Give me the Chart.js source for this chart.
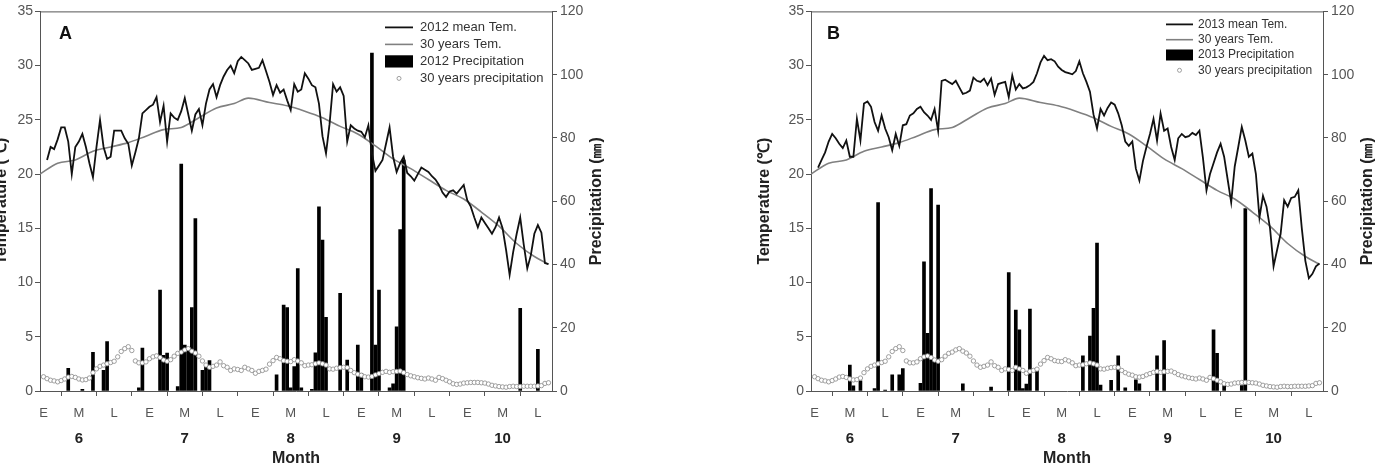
<!DOCTYPE html>
<html>
<head>
<meta charset="utf-8">
<script src="https://cdn.jsdelivr.net/npm/chart.js@4.4.1/dist/chart.umd.min.js"></script>
<style>
  html, body { margin: 0; padding: 0; background: #fff; width: 1377px; height: 463px; overflow: hidden; position: relative; }
  canvas { position: absolute; top: 0; }
  #chartA { left: -12px; }
  #chartB { left: 751px; }
</style>
</head>
<body>
<canvas id="chartA" width="624" height="475"></canvas>
<canvas id="chartB" width="626" height="475"></canvas>
<script>
// x axis: day index from 1 June (E/M/L = early, mid, late part of each month)
const periodTickDays = [1, 11, 21, 31, 41, 51, 61, 71, 81, 91, 101, 111, 121, 131, 141];
const periodLabels = ['E', 'M', 'L', 'E', 'M', 'L', 'E', 'M', 'L', 'E', 'M', 'L', 'E', 'M', 'L'];
const monthTickDays = [11, 41, 71, 101, 131];
const monthLabels = ['6', '7', '8', '9', '10'];

// 30 years mean temperature (smooth curve), read every few days
const normTempDays = [0, 5, 10, 15, 20, 25, 30, 35, 40, 45, 50, 55, 59, 65, 70,
                      75, 80, 85, 90, 95, 100, 105, 110, 115, 120, 125, 130, 135, 140, 144];
const normTemp = [20.0, 21.0, 21.3, 22.1, 22.5, 22.9, 23.5, 24.1, 24.3, 25.2, 26.1, 26.5, 27.0, 26.6, 26.3,
                  25.8, 25.2, 24.4, 23.7, 22.6, 21.4, 20.5, 19.5, 18.5, 17.7, 16.5, 15.2, 13.6, 12.4, 11.7];

// 30 years daily precipitation (mm), day 1 .. 144
const normPrecipFirstDay = 1;
const normPrecip = [
  4.5, 3.9, 3.4, 3.2, 2.9, 3.3, 3.8, 4.4, 4.6, 4.3,
  3.8, 3.5, 3.6, 4.1, 5.8, 7.0, 7.8, 8.2, 8.6, 9.0,
  9.4, 10.8, 12.5, 13.4, 14.0, 12.8, 9.5, 8.9, 8.9, 9.2,
  10.2, 10.8, 11.1, 10.6, 9.8, 9.4, 9.9, 11.0, 11.9, 12.3,
  13.0, 13.4, 12.6, 12.0, 11.0, 9.5, 8.2, 7.5, 7.8, 8.2,
  9.2, 8.0, 7.5, 6.5, 7.0, 6.8, 6.5, 7.5, 7.0, 6.5,
  5.6, 6.2, 6.5, 6.9, 8.5, 9.6, 10.6, 10.2, 9.6, 9.4,
  9.3, 9.9, 9.5, 8.9, 8.0, 8.2, 8.3, 8.6, 8.9, 8.6,
  8.2, 7.0, 6.9, 7.2, 7.4, 7.5, 7.4, 6.5, 5.8, 5.3,
  5.0, 4.5, 4.4, 4.6, 5.1, 5.5, 5.9, 6.2, 5.9, 6.1,
  6.2, 6.3, 5.8, 5.2, 4.8, 4.5, 4.2, 4.0, 3.8, 4.1,
  3.8, 3.4, 4.3, 3.9, 3.4, 2.9, 2.3, 2.1, 2.2, 2.5,
  2.6, 2.7, 2.7, 2.7, 2.6, 2.5, 2.2, 1.8, 1.6, 1.4,
  1.3, 1.2, 1.4, 1.5, 1.4, 1.4, 1.5, 1.5, 1.5, 1.5,
  1.6, 1.7, 2.4, 2.6
];

// daily mean temperature, day 2 .. 144
const tempFirstDay = 2;
const temp2012 = [
  21.3, 22.5, 22.3, 23.2, 24.3, 24.3, 23.0, 20.0, 22.5, 23.0,
  23.7, 22.5, 21.0, 19.7, 22.5, 25.0, 22.5, 21.4, 21.6, 24.0,
  24.0, 24.0, 23.3, 22.8, 20.8, 22.0, 23.3, 25.6, 25.9, 26.2,
  26.4, 27.1, 24.8, 26.3, 23.0, 25.6, 25.2, 25.0, 25.8, 27.0,
  25.5, 24.0, 25.5, 26.0, 24.5, 26.5, 27.8, 28.3, 27.1, 28.2,
  29.0, 29.6, 30.0, 29.3, 30.4, 30.8, 30.5, 30.2, 29.6, 29.7,
  29.8, 30.5, 29.5, 28.5, 27.3, 28.2, 27.5, 27.8, 26.8, 25.9,
  28.3, 27.6, 27.8, 29.3, 28.8, 28.2, 28.0, 26.5, 23.5, 21.9,
  24.6, 28.3, 27.6, 28.0, 27.2, 23.0, 24.5, 24.2, 24.0, 23.9,
  23.4, 24.5, 21.9, 20.3, 20.8, 21.3, 22.8, 24.3, 21.6, 20.2,
  21.0, 21.6, 20.1, 19.8, 19.4, 20.0, 20.6, 20.4, 20.2, 19.8,
  19.5, 19.0, 18.3, 17.9, 18.4, 18.5, 18.2, 18.6, 19.0, 17.6,
  17.0, 16.0, 15.1, 16.0, 15.5, 15.0, 14.5, 15.1, 16.0, 15.0,
  13.0, 10.7, 12.8, 14.5, 16.0, 13.5, 11.3, 12.5, 14.5, 15.3,
  14.6, 11.8, 11.7
];
const temp2013 = [
  20.6, 21.3, 22.0, 23.0, 23.7, 23.3, 22.8, 22.4, 23.1, 21.6,
  21.6, 25.1, 23.1, 26.5, 26.7, 26.2, 24.8, 24.0, 25.4, 24.2,
  23.4, 22.2, 23.7, 22.6, 24.5, 24.6, 25.4, 25.6, 26.0, 26.2,
  25.7, 25.4, 25.0, 26.0, 24.0, 28.6, 28.7, 28.5, 28.3, 28.6,
  28.0, 27.4, 27.5, 27.7, 28.9, 28.6, 28.5, 28.8, 28.2, 28.8,
  27.3, 28.3, 28.4, 28.5, 27.1, 29.1, 27.8, 28.3, 27.9, 28.0,
  28.2, 28.5, 29.3, 30.3, 30.9, 30.5, 30.6, 30.4, 29.9, 29.6,
  29.4, 29.3, 29.2, 29.5, 30.4, 29.3, 28.5, 27.6, 25.5, 24.2,
  26.0, 25.4, 26.1, 26.6, 26.4, 25.6, 24.5, 23.0, 22.6, 23.0,
  20.5, 19.4, 21.2, 22.5, 23.7, 25.1, 23.1, 25.6, 24.0, 24.2,
  22.5, 21.3, 23.3, 23.7, 23.4, 23.5, 23.8, 23.6, 24.0, 21.5,
  18.5, 20.0, 21.0, 22.0, 22.8, 21.6, 19.5, 17.4, 20.7, 22.5,
  24.35, 23.1, 21.6, 21.9, 20.0, 16.0, 18.0, 17.0, 15.0, 11.5,
  13.0, 14.5, 17.6, 17.0, 17.8, 17.9, 18.5, 15.0, 12.0, 10.4,
  10.8, 11.5, 11.75
];

// daily precipitation (mm), only the rainy days
const precipDays2012 = [8, 12, 15, 18, 19, 28, 29, 34, 35, 36, 39, 40, 41, 42, 43, 44, 46, 47, 48, 67,
                        69, 70, 71, 72, 73, 74, 77, 78, 79, 80, 81, 85, 87, 90, 91, 94, 95, 96, 99, 100,
                        101, 102, 103, 136, 141];
const precip2012 = [7.2, 0.5, 12.2, 6.5, 15.6, 1.0, 13.6, 31.9, 11.3, 12.0, 1.4, 71.7, 14.5, 13.5, 26.4, 54.5, 6.5, 8.4, 9.6, 5.1,
                    27.2, 26.4, 1.0, 7.7, 38.7, 1.0, 0.5, 12.1, 58.2, 47.7, 23.3, 30.9, 9.8, 14.5, 5.6, 106.8, 14.5, 31.9, 1.0, 2.3,
                    20.3, 51.0, 73.0, 26.1, 13.2];
const precipDays2013 = [11, 12, 14, 18, 19, 21, 23, 25, 26, 31, 32, 33, 34, 35, 36, 43, 51, 56, 58, 59,
                        60, 61, 62, 64, 77, 79, 80, 81, 82, 85, 87, 89, 92, 93, 98, 100, 114, 115, 117, 122,
                        123];
const precip2013 = [8.2, 1.6, 3.2, 0.8, 59.6, 0.3, 5.1, 5.1, 7.1, 2.4, 40.8, 18.2, 64.0, 9.5, 58.8, 2.3, 1.2, 37.4, 25.6, 19.3,
                    0.8, 2.2, 25.9, 6.6, 11.1, 17.4, 26.1, 46.8, 1.9, 3.4, 11.1, 1.0, 3.5, 2.3, 11.1, 15.9, 19.3, 11.9, 2.2, 1.7,
                    57.7];

Chart.defaults.font.family = '"Liberation Sans", Arial, sans-serif';
Chart.defaults.color = '#555';

const pairs = (days, vals) => days.map((d, i) => ({x: d, y: vals[i]}));
const daily = (first, vals) => vals.map((v, i) => ({x: first + i, y: v}));

// top border of the frame, legend box, panel letter, right axis title
const panelDecor = {
  id: 'panelDecor',
  afterDraw(chart, args, o) {
    const {ctx, chartArea: ca} = chart;
    ctx.save();
    ctx.strokeStyle = '#555';
    ctx.lineWidth = 1;
    ctx.beginPath();
    ctx.moveTo(ca.left, ca.top + 0.5);
    ctx.lineTo(ca.right, ca.top + 0.5);
    ctx.stroke();

    ctx.fillStyle = '#111';
    ctx.font = 'bold 18px "Liberation Sans", Arial, sans-serif';
    ctx.textBaseline = 'alphabetic';
    ctx.fillText(o.letter, ca.left + o.letterDx, ca.top + 28);

    // right axis title, reading bottom to top
    ctx.translate(ca.right + 45, (ca.top + ca.bottom) / 2);
    ctx.rotate(-Math.PI / 2);
    ctx.font = 'bold 16px "Liberation Sans", Arial, sans-serif';
    ctx.fillStyle = '#222';
    ctx.textAlign = 'center';
    ctx.textBaseline = 'middle';
    ctx.fillText('Precipitation (㎜)', 0, 0);
    ctx.restore();

    // legend
    ctx.save();
    ctx.font = o.legendFont + 'px "Liberation Sans", Arial, sans-serif';
    ctx.textBaseline = 'middle';
    const x0 = ca.right - o.legendDx;
    chart.data.datasets.forEach((ds, i) => {
      const y = ca.top + o.legendDy + i * o.rowH;
      if (ds.type === 'bar') {
        ctx.fillStyle = '#000';
        ctx.fillRect(x0, y - o.rowH * 0.36, o.sampleW, o.rowH * 0.72);
      } else if (ds.showLine === false) {
        ctx.beginPath();
        ctx.arc(x0 + o.sampleW / 2, y, 2, 0, Math.PI * 2);
        ctx.fillStyle = '#fff';
        ctx.fill();
        ctx.strokeStyle = '#888';
        ctx.lineWidth = 0.8;
        ctx.stroke();
      } else {
        ctx.strokeStyle = ds.borderColor;
        ctx.lineWidth = ds.borderWidth;
        ctx.beginPath();
        ctx.moveTo(x0, y);
        ctx.lineTo(x0 + o.sampleW, y);
        ctx.stroke();
      }
      ctx.fillStyle = '#333';
      ctx.fillText(ds.label, x0 + o.sampleW + o.textGap, y);
    });
    ctx.restore();
  }
};

function makeChart(id, year, temp, pDays, pVals, sizes) {
  return new Chart(document.getElementById(id), {
    type: 'line',
    data: {
      datasets: [{
        label: year + ' mean Tem.',
        data: daily(tempFirstDay, temp),
        borderColor: '#111',
        borderWidth: 1.8,
        pointRadius: 0,
        tension: 0,
        yAxisID: 'y',
        order: 0
      }, {
        label: '30 years Tem.',
        data: pairs(normTempDays, normTemp),
        borderColor: '#808080',
        borderWidth: 1.6,
        pointRadius: 0,
        cubicInterpolationMode: 'monotone',
        yAxisID: 'y',
        order: 1
      }, {
        type: 'bar',
        label: year + ' Precipitation',
        data: pairs(pDays, pVals),
        backgroundColor: '#000',
        borderWidth: 0,
        barThickness: 3,
        yAxisID: 'y1',
        order: 3
      }, {
        label: '30 years precipitation',
        data: daily(normPrecipFirstDay, normPrecip),
        showLine: false,
        pointRadius: 2.2,
        pointBorderWidth: 0.8,
        pointBorderColor: '#888',
        pointBackgroundColor: '#fff',
        yAxisID: 'y1',
        order: 2
      }]
    },
    options: {
      responsive: false,
      animation: false,
      layout: {padding: {top: 11, left: 0, right: 0, bottom: 0}},
      plugins: {
        legend: {display: false},
        tooltip: {enabled: false},
        panelDecor: sizes.decor
      },
      scales: {
        x: {
          type: 'linear', position: 'bottom', min: 0, max: 145, offset: false, weight: 0,
          grid: {drawOnChartArea: false, tickLength: 5, color: '#555'},
          border: {color: '#555'},
          afterBuildTicks: ax => { ax.ticks = periodTickDays.map(v => ({value: v})); },
          ticks: {autoSkip: false, maxRotation: 0, padding: 10, color: '#555', font: {size: 13},
                  callback: (v, i) => periodLabels[i]},
          afterFit: s => { s.height = 30; }
        },
        xMonth: {
          type: 'linear', position: 'bottom', min: 0, max: 145, offset: false, weight: 1,
          grid: {display: false},
          border: {display: false},
          afterBuildTicks: ax => { ax.ticks = monthTickDays.map(v => ({value: v})); },
          ticks: {autoSkip: false, maxRotation: 0, padding: 1, color: '#222', font: {size: 15, weight: 'bold'},
                  callback: (v, i) => monthLabels[i]},
          title: {display: true, text: 'Month', color: '#222', font: {size: 16, weight: 'bold'},
                  padding: {top: 0, bottom: 7}},
          afterFit: s => { s.height = 54; }
        },
        y: {
          position: 'left', min: 0, max: 35,
          grid: {drawOnChartArea: false, tickLength: 5, color: '#555'},
          border: {color: '#555'},
          ticks: {stepSize: 5, padding: 2, color: '#555', font: {size: 14}},
          title: {display: true, text: 'Temperature (℃)', color: '#222', font: {size: 16, weight: 'bold'}},
          afterFit: s => { s.width = sizes.leftW; }
        },
        y1: {
          position: 'right', min: 0, max: 120,
          grid: {drawOnChartArea: false, tickLength: 5, color: '#555'},
          border: {color: '#555'},
          ticks: {stepSize: 20, padding: 3, color: '#555', font: {size: 14}},
          afterFit: s => { s.width = sizes.rightW; }
        }
      }
    },
    plugins: [panelDecor]
  });
}

makeChart('chartA', '2012', temp2012, precipDays2012, precip2012, {
  leftW: 52, rightW: 60,
  decor: {letter: 'A', letterDx: 19, legendDx: 167, legendDy: 16, rowH: 17, sampleW: 28, textGap: 7, legendFont: 13}
});
makeChart('chartB', '2013', temp2013, precipDays2013, precip2013, {
  leftW: 60, rightW: 54,
  decor: {letter: 'B', letterDx: 16, legendDx: 157, legendDy: 13, rowH: 15.3, sampleW: 27, textGap: 5, legendFont: 12}
});
</script>
</body>
</html>
